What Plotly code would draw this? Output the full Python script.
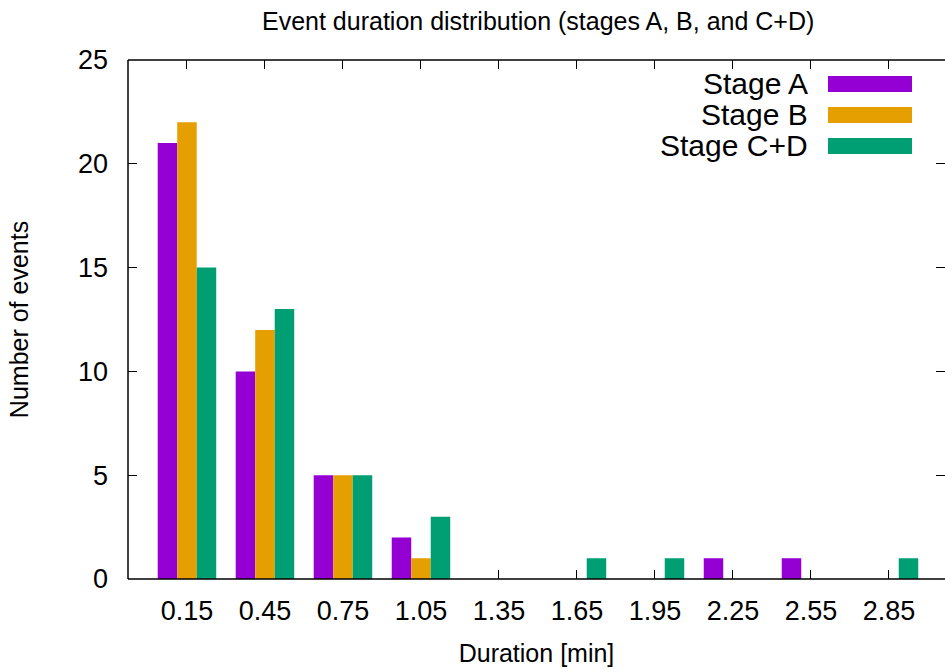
import plotly.graph_objects as go

# Histogram bins (bin centres in minutes) and event counts per stage
durations = ["0.15", "0.45", "0.75", "1.05", "1.35", "1.65", "1.95", "2.25", "2.55", "2.85"]
stage_a = [21, 10, 5, 2, 0, 0, 0, 1, 1, 0]
stage_b = [22, 12, 5, 1, 0, 0, 0, 0, 0, 0]
stage_cd = [15, 13, 5, 3, 0, 1, 1, 0, 0, 1]

series_names = ["Stage A", "Stage B", "Stage C+D"]
series_colors = ["#9400D3", "#E69F00", "#009E73"]
series_values = [stage_a, stage_b, stage_cd]

FONT = "Liberation Sans, Arial, sans-serif"
W, H = 945, 672
ML, MR, MT, MB = 128, 0, 60, 93
plot_h = H - MT - MB

positions = list(range(len(durations)))

fig = go.Figure()
for name, color, vals in zip(series_names, series_colors, series_values):
    fig.add_trace(go.Bar(
        x=positions, y=vals, name=name,
        marker=dict(color=color, line=dict(width=0)),
        showlegend=False,
    ))

axis_common = dict(
    ticks="inside", ticklen=9, tickwidth=1, tickcolor="black",
    showgrid=False, zeroline=False, showline=False, mirror="ticks",
    layer="below traces",
    tickfont=dict(family=FONT, size=27, color="black"),
)

fig.update_layout(
    width=W, height=H,
    margin=dict(l=ML, r=MR, t=MT, b=MB),
    paper_bgcolor="white", plot_bgcolor="white",
    barmode="group", bargap=0.25, bargroupgap=0,
    title=dict(text="Event duration distribution (stages A, B, and C+D)",
               x=0.5695, xanchor="center", y=1 - 21 / H, yanchor="middle",
               font=dict(family=FONT, size=25, color="black")),
    xaxis=dict(
        range=[-0.756, 9.718], tickmode="array", tickvals=positions, ticktext=durations,
        ticklabelstandoff=13,
        title=dict(text="Duration [min]", font=dict(family=FONT, size=25, color="black"),
                   standoff=19),
        **axis_common,
    ),
    yaxis=dict(
        range=[0, 25], dtick=5, ticklabelstandoff=19,
        title=dict(text="Number of events", font=dict(family=FONT, size=25, color="black"),
                   standoff=42),
        **axis_common,
    ),
)

# Plot frame (left, top, bottom) drawn over the bars
for x0, y0, x1, y1 in [(0, 0, 0, 1), (0, 1, 1, 1), (0, 0, 1, 0)]:
    fig.add_shape(type="line", xref="paper", yref="paper", x0=x0, y0=y0, x1=x1, y1=y1,
                  line=dict(color="black", width=1.5), layer="above")

# Legend: right-aligned labels followed by colour swatches
def py_to_paper(py):
    return (H - MB - py) / plot_h

def px_to_paper(px):
    return (px - ML) / (W - ML - MR)

row_centres = [84, 115, 146]
for name, color, yc in zip(series_names, series_colors, row_centres):
    fig.add_annotation(text=name, xref="paper", yref="paper",
                       x=px_to_paper(810), y=py_to_paper(yc), xanchor="right", yanchor="middle",
                       showarrow=False, font=dict(family=FONT, size=30, color="black"))
    fig.add_shape(type="rect", xref="paper", yref="paper",
                  x0=px_to_paper(828), x1=px_to_paper(912),
                  y0=py_to_paper(yc + 8), y1=py_to_paper(yc - 8),
                  fillcolor=color, line=dict(width=0), layer="above")

fig.write_html("out.html")
